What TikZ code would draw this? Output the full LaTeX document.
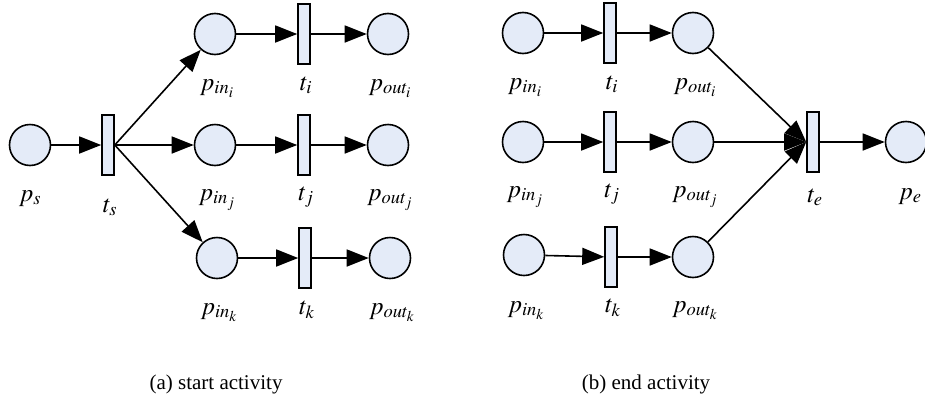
\documentclass[tikz,border=0pt]{standalone}
\usepackage{mathptmx}
\usepackage{fontspec}
\setmainfont{Liberation Serif}
\usetikzlibrary{arrows.meta}

\definecolor{placefill}{RGB}{228,235,248}

\begin{document}
\begin{tikzpicture}[
    x=1pt, y=-1pt,
    place/.style={circle, draw, line width=1.6pt, fill=placefill, minimum size=41pt, inner sep=0pt},
    trans/.style={rectangle, draw, line width=1.6pt, fill=placefill, minimum width=12pt, minimum height=60pt, inner sep=0pt},
    flow/.style={-{Triangle[length=22pt,width=17pt]}, line width=1.6pt},
    lbl/.style={anchor=base, inner sep=0pt, font=\fontsize{25}{29}\selectfont},
    caption/.style={anchor=base, inner sep=0pt, font=\fontsize{21}{25}\selectfont}
]
\useasboundingbox (0,0) rectangle (925,418);

% (a) start activity
\node[place] (ps) at (30,145) {};
\node[trans] (ts) at (108,145) {};
\node[place] (pini) at (215,34) {};
\node[trans] (ti) at (304,34) {};
\node[place] (pouti) at (388,34) {};
\node[place] (pinj) at (215,145) {};
\node[trans] (tj) at (304,145) {};
\node[place] (poutj) at (388,145) {};
\node[place] (pink) at (217,258) {};
\node[trans] (tk) at (305,258) {};
\node[place] (poutk) at (390,258) {};

\node[lbl] (ps-l) at (30,201) {$p_s$};
\node[lbl] (ts-l) at (110,212) {$t_s$};
\node[lbl] (pini-l) at (217,90) {$p_{in_i}$};
\node[lbl] (ti-l) at (306,90) {$t_i$};
\node[lbl] (pouti-l) at (390,90) {$p_{out_i}$};
\node[lbl] (pinj-l) at (217,200) {$p_{in_j}$};
\node[lbl] (tj-l) at (306,200) {$t_j$};
\node[lbl] (poutj-l) at (390,200) {$p_{out_j}$};
\node[lbl] (pink-l) at (219,314) {$p_{in_k}$};
\node[lbl] (tk-l) at (307,314) {$t_k$};
\node[lbl] (poutk-l) at (392,314) {$p_{out_k}$};

\draw[flow] (ps) -- (ts);
\draw[flow] (ts.east) -- (pini);
\draw[flow] (ts.east) -- (pinj);
\draw[flow] (ts.east) -- (pink);
\draw[flow] (pini) -- (ti);
\draw[flow] (ti) -- (pouti);
\draw[flow] (pinj) -- (tj);
\draw[flow] (tj) -- (poutj);
\draw[flow] (pink) -- (tk);
\draw[flow] (tk) -- (poutk);

% (b) end activity
\node[place] (qini) at (523,33) {};
\node[trans] (ui) at (610,33) {};
\node[place] (qouti) at (693,33) {};
\node[place] (qinj) at (523,142) {};
\node[trans] (uj) at (610,142) {};
\node[place] (qoutj) at (693,142) {};
\node[place] (qink) at (524,255) {};
\node[trans] (uk) at (611,257) {};
\node[place] (qoutk) at (693,257) {};
\node[trans] (te) at (813,142) {};
\node[place] (pe) at (906,142) {};

\node[lbl] (qini-l) at (525,89) {$p_{in_i}$};
\node[lbl] (ui-l) at (612,89) {$t_i$};
\node[lbl] (qouti-l) at (695,89) {$p_{out_i}$};
\node[lbl] (qinj-l) at (525,197) {$p_{in_j}$};
\node[lbl] (uj-l) at (612,197) {$t_j$};
\node[lbl] (qoutj-l) at (695,197) {$p_{out_j}$};
\node[lbl] (qink-l) at (526,312) {$p_{in_k}$};
\node[lbl] (uk-l) at (613,312) {$t_k$};
\node[lbl] (qoutk-l) at (695,312) {$p_{out_k}$};
\node[lbl] (te-l) at (815,202) {$t_e$};
\node[lbl] (pe-l) at (910,199) {$p_e$};

\draw[flow] (qini) -- (ui);
\draw[flow] (ui) -- (qouti);
\draw[flow] (qinj) -- (uj);
\draw[flow] (uj) -- (qoutj);
\draw[flow] (qink) -- (uk);
\draw[flow] (uk) -- (qoutk);
\draw[flow] (qouti) -- (te.west);
\draw[flow] (qoutj) -- (te.west);
\draw[flow] (qoutk) -- (te.west);
\draw[flow] (te) -- (pe);

% captions
\node[caption] (capa) at (216,389) {(a) start activity};
\node[caption] (capb) at (646,389) {(b) end activity};
\end{tikzpicture}
\end{document}
